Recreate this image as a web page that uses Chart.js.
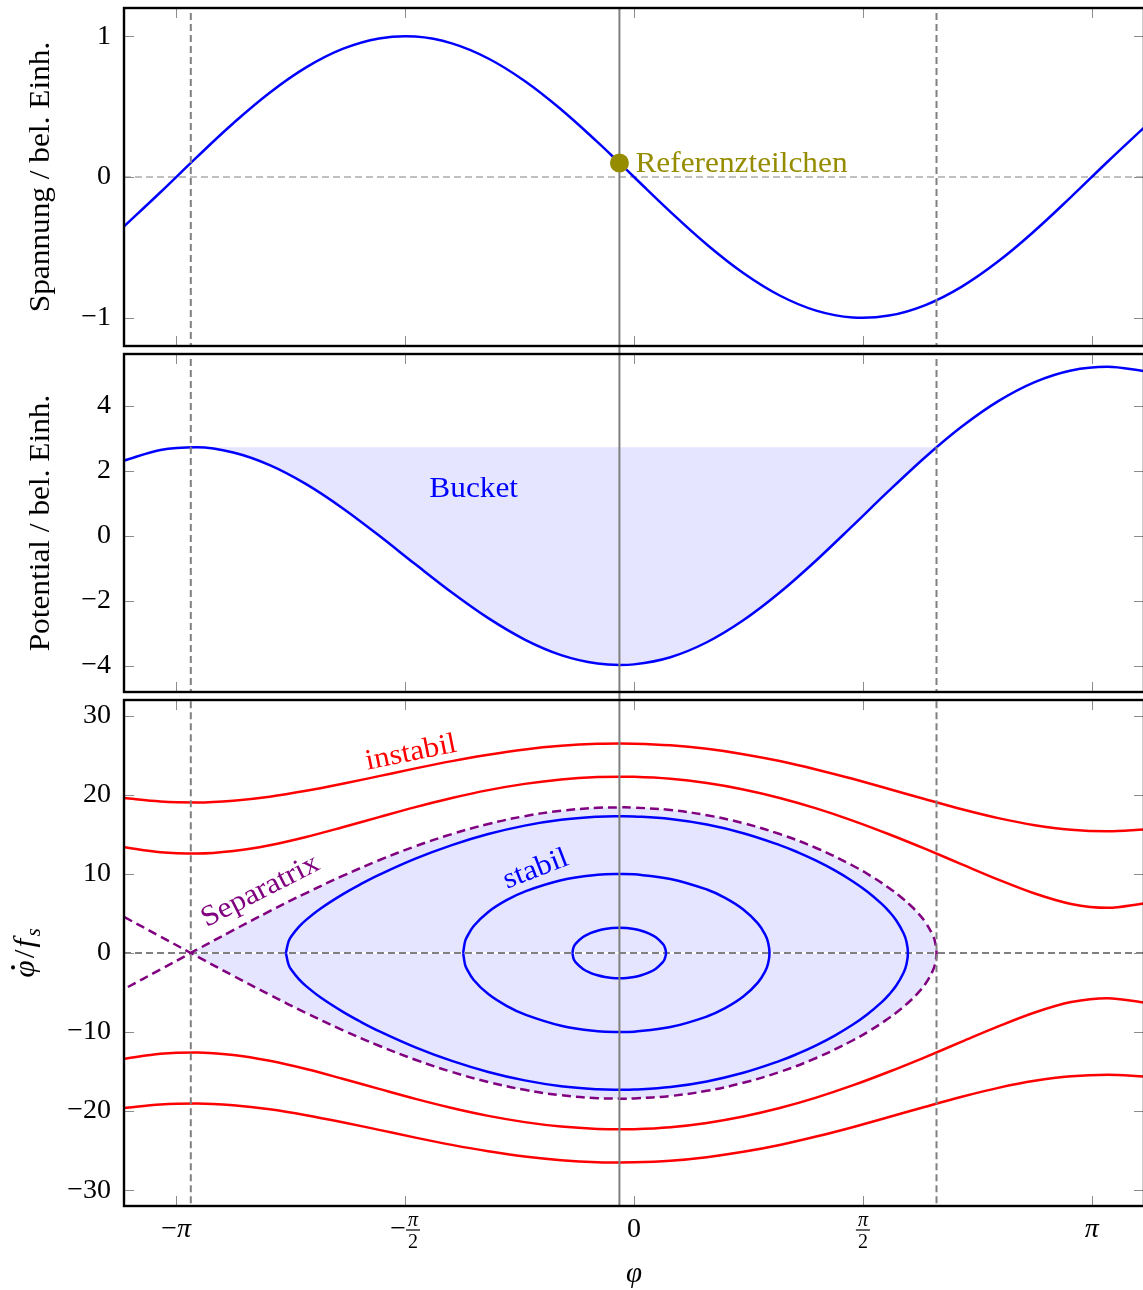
<!DOCTYPE html>
<html>
<head>
<meta charset="utf-8">
<script src="https://cdn.jsdelivr.net/npm/chart.js@4/dist/chart.umd.min.js"></script>
<style>
  html, body { margin: 0; padding: 0; background: #fff; overflow: hidden; width: 1143px; height: 1290px; }
  canvas { position: absolute; left: 0; display: block; }
</style>
</head>
<body>
<canvas id="cU" width="1160" height="350" style="top:0px"></canvas>
<canvas id="cP" width="1160" height="346" style="top:350px"></canvas>
<canvas id="cS" width="1160" height="594" style="top:696px"></canvas>
<script>
// ---- phase axis -------------------------------------------------------
const X_MIN = -3.5, X_MAX = 3.5;
const X_TICKS = [-Math.PI, -Math.PI / 2, 0, Math.PI / 2, Math.PI];
const X_TICK_LABELS = ['−π', '−π/2', '0', 'π/2', 'π'];

// ---- y ticks per panel ---------------------------------------------------
const U_TICKS = [-1, 0, 1];
const P_TICKS = [-4, -2, 0, 2, 4];
const S_TICKS = [-30, -20, -10, 0, 10, 20, 30];

// ---- sampled phases for the RF voltage, potential and unbounded orbits ---
const PHI = [-3.5, -3.25, -3.0, -2.75, -2.5, -2.25, -2.0, -1.75, -1.5, -1.25, -1.0, -0.75, -0.5, -0.25, -0.1,
             0, 0.25, 0.5, 0.75, 1.0, 1.25, 1.5, 1.75, 2.0, 2.25, 2.5, 2.75, 3.0, 3.25, 3.5];
const VOLTAGE = [-0.3508, -0.1082, 0.1411, 0.3817, 0.5985, 0.7781, 0.9093, 0.9840, 0.9975, 0.9490, 0.8415, 0.6816, 0.4794, 0.2474, 0.0998,
                 0, -0.2474, -0.4794, -0.6816, -0.8415, -0.9490, -0.9975, -0.9840, -0.9093, -0.7781, -0.5985, -0.3817, -0.1411, 0.1082, 0.3508];
const POTENTIAL = [2.319, 2.646, 2.728, 2.567, 2.179, 1.594, 0.855, 0.014, -0.871, -1.738, -2.528, -3.186, -3.664, -3.926, -3.970,
                   -3.950, -3.729, -3.269, -2.594, -1.740, -0.753, 0.312, 1.394, 2.432, 3.368, 4.150, 4.735, 5.093, 5.208, 5.079];
const RED_OUTER = [19.59, 19.16, 19.05, 19.27, 19.77, 20.51, 21.40, 22.37, 23.35, 24.27, 25.08, 25.74, 26.20, 26.46, 26.50,
                   26.48, 26.27, 25.82, 25.15, 24.28, 23.22, 22.03, 20.75, 19.44, 18.18, 17.06, 16.17, 15.60, 15.41, 15.62];
const RED_INNER = [13.37, 12.74, 12.58, 12.90, 13.64, 14.68, 15.91, 17.19, 18.45, 19.60, 20.60, 21.39, 21.95, 22.25, 22.30,
                   22.28, 22.03, 21.49, 20.68, 19.61, 18.29, 16.75, 15.02, 13.16, 11.21, 9.28, 7.52, 6.20, 5.71, 6.26];

// ---- synchronous particle and bucket limits --------------------------------
const PHI_S = -0.1, V_S = 0.0998;
const PHI_U = -3.0416, PHI_R = 2.076, U_SEP = 2.731;

// ---- separatrix (upper branch) and its tail beyond the unstable point -------
const SEP_PHI = [-3.0416, -3.0, -2.75, -2.5, -2.25, -2.0, -1.75, -1.5, -1.25, -1.0, -0.75, -0.5, -0.25, -0.1,
                 0, 0.25, 0.5, 0.75, 1.0, 1.25, 1.5, 1.625, 1.75, 1.825, 1.9, 1.95, 2.0, 2.05, 2.065, 2.076];
const SEP_Y = [0, 0.424, 2.884, 5.290, 7.588, 9.747, 11.730, 13.505, 15.044, 16.319, 17.309, 17.994, 18.360, 18.42,
               18.393, 18.086, 17.431, 16.421, 15.047, 13.282, 11.068, 9.748, 8.229, 7.182, 5.977, 5.034, 3.894, 2.261, 1.488, 0];
const SEP_TAIL_PHI = [-3.5, -3.25];
const SEP_TAIL_Y = [4.567, 2.083];

// ---- stable orbits (upper halves) -------------------------------------------
const ORBIT_L_PHI = [-2.389, -2.37, -2.35, -2.3, -2.25, -2.15, -2.0, -1.875, -1.75, -1.5, -1.25, -1.0, -0.75, -0.5, -0.25, -0.1,
                     0, 0.25, 0.5, 0.75, 1.0, 1.125, 1.25, 1.375, 1.5, 1.6, 1.7, 1.75, 1.8, 1.85, 1.87, 1.88];
const ORBIT_L_Y = [0, 1.497, 2.158, 3.309, 4.193, 5.634, 7.416, 8.708, 9.878, 11.932, 13.650, 15.044, 16.112, 16.846, 17.236, 17.30,
                   17.271, 16.944, 16.243, 15.155, 13.653, 12.731, 11.680, 10.477, 9.083, 7.780, 6.213, 5.265, 4.115, 2.502, 1.422, 0];
const ORBIT_M_PHI = [-1.1727, -1.16, -1.15, -1.1, -1.0, -0.875, -0.75, -0.5, -0.25, -0.1, 0, 0.25, 0.5, 0.625, 0.75, 0.85, 0.9, 0.92, 0.93];
const ORBIT_M_Y = [0, 1.422, 1.911, 3.417, 5.198, 6.682, 7.765, 9.192, 9.888, 10.0, 9.950, 9.370, 8.034, 6.980, 5.510, 3.747, 2.315, 1.342, 0];
const ORBIT_S_PHI = [-0.4225, -0.415, -0.4, -0.35, -0.3, -0.25, -0.2, -0.15, -0.1, -0.05, 0, 0.05, 0.1, 0.15, 0.2, 0.21, 0.22];
const ORBIT_S_Y = [0, 0.713, 1.183, 2.015, 2.502, 2.823, 3.033, 3.154, 3.194, 3.154, 3.033, 2.820, 2.490, 1.990, 1.105, 0.784, 0];

// ---- styling -------------------------------------------------------------
const FONT = '"Liberation Serif", "Times New Roman", serif';
const TEXT_STRETCH = 1.08;
const BLUE = '#0000ff', RED = '#ff0000', VIOLET = '#800080', OLIVE = '#968c00';
const GRAY = '#808080', LIGHTGRAY = '#c0c0c0', FILL = '#e5e5ff', TICK_COLOR = '#8c8c8c';
const DASH = [7, 4], SEP_DASH = [9, 5];
const AXIS_WIDTH = 124, TICK_LEN = 10;

// ---- data helpers ----------------------------------------------------------
const pts = (xs, ys) => xs.map((x, i) => ({ x, y: ys[i] }));
const negPts = (xs, ys) => xs.map((x, i) => ({ x, y: -ys[i] }));
function closedOrbit(xs, ys) {
  const path = pts(xs, ys);
  for (let i = xs.length - 2; i >= 0; i--) path.push({ x: xs[i], y: -ys[i] });
  return path;
}
function separatrixPath() {
  const p = [];
  SEP_TAIL_PHI.forEach((x, i) => p.push({ x, y: SEP_TAIL_Y[i] }));
  SEP_PHI.forEach((x, i) => p.push({ x, y: -SEP_Y[i] }));
  for (let i = SEP_PHI.length - 2; i >= 0; i--) p.push({ x: SEP_PHI[i], y: SEP_Y[i] });
  for (let i = SEP_TAIL_PHI.length - 1; i >= 0; i--) p.push({ x: SEP_TAIL_PHI[i], y: -SEP_TAIL_Y[i] });
  return p;
}
function bucketPoints() {
  const p = [{ x: PHI_U, y: U_SEP }];
  PHI.forEach((x, i) => { if (x > PHI_U && x < PHI_R) p.push({ x, y: POTENTIAL[i] }); });
  p.push({ x: PHI_R, y: U_SEP });
  return p;
}

const curve = (data, color, extra = {}) =>
  Object.assign({ data, borderColor: color, borderWidth: 2.5, pointRadius: 0, tension: 0.4, fill: false }, extra);
const smooth = { cubicInterpolationMode: 'monotone' };
const vline = (x, color, dash, clip) => ({
  data: [{ x, y: -1000 }, { x, y: 1000 }], borderColor: color, borderWidth: 2, borderDash: dash || [],
  pointRadius: 0, tension: 0, fill: false, clip: clip || 0
});
const hline = (y, color, dash, width) => ({
  data: [{ x: X_MIN, y }, { x: X_MAX, y }], borderColor: color, borderWidth: width || 2, borderDash: dash || [],
  pointRadius: 0, tension: 0, fill: false
});
const area = (data, target, extra = {}) => Object.assign({
  data, borderColor: 'rgba(0,0,0,0)', borderWidth: 1, backgroundColor: FILL, pointRadius: 0, tension: 0.4, fill: target
}, extra);

const fmt = v => (v < 0 ? '\u2212' + Math.abs(v) : String(v));

// ---- drawing helpers --------------------------------------------------------
function drawText(ctx, text, x, y, rot, align, color, font) {
  ctx.save();
  ctx.translate(x, y);
  ctx.rotate(rot);
  ctx.scale(TEXT_STRETCH, 1);
  ctx.font = font;
  ctx.fillStyle = color;
  ctx.textAlign = align;
  ctx.textBaseline = 'alphabetic';
  ctx.fillText(text, 0, 0);
  ctx.restore();
}

const framePlugin = {
  id: 'frame',
  afterDatasetsDraw(chart) {
    const { ctx, chartArea: a, scales: { x, y } } = chart;
    ctx.save();
    ctx.strokeStyle = TICK_COLOR;
    ctx.lineWidth = 1;
    ctx.beginPath();
    X_TICKS.forEach(v => {
      const px = Math.round(x.getPixelForValue(v)) + 0.5;
      ctx.moveTo(px, a.top); ctx.lineTo(px, a.top + TICK_LEN);
      ctx.moveTo(px, a.bottom); ctx.lineTo(px, a.bottom - TICK_LEN);
    });
    y.ticks.forEach(t => {
      const py = Math.round(y.getPixelForValue(t.value)) + 0.5;
      ctx.moveTo(a.left, py); ctx.lineTo(a.left + TICK_LEN, py);
      ctx.moveTo(a.right, py); ctx.lineTo(a.right - TICK_LEN, py);
    });
    ctx.stroke();
    ctx.strokeStyle = '#000';
    ctx.lineWidth = 2.4;
    ctx.strokeRect(a.left, a.top, a.right - a.left, a.bottom - a.top);
    ctx.restore();
  }
};

function notesPlugin(notes) {
  return {
    id: 'notes',
    afterDatasetsDraw(chart) {
      const { ctx, scales: { x, y } } = chart;
      notes.forEach(n => {
        const px = x.getPixelForValue(n.x) + (n.dx || 0);
        const py = y.getPixelForValue(n.y) + (n.dy || 0);
        drawText(ctx, n.text, px, py, (n.rot || 0) * Math.PI / 180, n.align || 'center', n.color, `29px ${FONT}`);
      });
    }
  };
}

function titlePlugin(text) {
  return {
    id: 'ytitle',
    afterDraw(chart) {
      const a = chart.chartArea;
      drawText(chart.ctx, text, 49, (a.top + a.bottom) / 2, -Math.PI / 2, 'center', '#000', `29px ${FONT}`);
    }
  };
}

// phase-velocity title: dotted phi over f with subscript s
const phaseTitlePlugin = {
  id: 'ytitle',
  afterDraw(chart) {
    const { ctx, chartArea: a } = chart;
    const parts = [
      { t: '\u03c6', f: `italic 29px ${FONT}`, dot: true },
      { t: '/', f: `29px ${FONT}` },
      { t: 'f', f: `italic 29px ${FONT}` },
      { t: 's', f: `italic 20px ${FONT}`, dy: 6 }
    ];
    const gap = 2;
    ctx.save();
    ctx.translate(34, (a.top + a.bottom) / 2);
    ctx.rotate(-Math.PI / 2);
    ctx.scale(TEXT_STRETCH, 1);
    ctx.fillStyle = '#000';
    ctx.textAlign = 'left';
    ctx.textBaseline = 'alphabetic';
    let w = 0;
    parts.forEach(p => { ctx.font = p.f; p.w = ctx.measureText(p.t).width; w += p.w; });
    w += gap * (parts.length - 1);
    let cx = -w / 2;
    parts.forEach(p => {
      ctx.font = p.f;
      ctx.fillText(p.t, cx, p.dy || 0);
      if (p.dot) { ctx.beginPath(); ctx.arc(cx + p.w * 0.6, -21, 2, 0, 2 * Math.PI); ctx.fill(); }
      cx += p.w + gap;
    });
    ctx.restore();
  }
};

// phase tick labels (with stacked fractions) and the axis title below the last panel
const phaseAxisPlugin = {
  id: 'phaseaxis',
  afterDraw(chart) {
    const { ctx, chartArea: a, scales: { x } } = chart;
    const base = a.bottom + 31;
    ctx.save();
    ctx.fillStyle = '#000';
    ctx.textBaseline = 'alphabetic';
    X_TICKS.forEach((v, i) => {
      const label = X_TICK_LABELS[i];
      const px = x.getPixelForValue(v);
      const sign = label.startsWith('\u2212') ? '\u2212' : '';
      const body = sign ? label.slice(1) : label;
      const big = `28px ${FONT}`, bigIt = `italic 28px ${FONT}`;
      if (body.includes('/')) {
        const [num, den] = body.split('/');
        const small = `20px ${FONT}`, smallIt = `italic 20px ${FONT}`;
        ctx.font = big; const sw = sign ? ctx.measureText(sign).width : 0;
        ctx.font = smallIt; const nw = ctx.measureText(num).width;
        ctx.font = small; const dw = ctx.measureText(den).width;
        const fw = Math.max(nw, dw) + 4;
        const left = px - (sw + fw) / 2;
        if (sign) { ctx.font = big; ctx.textAlign = 'left'; ctx.fillText(sign, left, base); }
        const fc = left + sw + fw / 2;
        ctx.textAlign = 'center';
        ctx.font = smallIt; ctx.fillText(num, fc, base - 11);
        ctx.font = small; ctx.fillText(den, fc, base + 11);
        ctx.fillRect(fc - fw / 2, base - 7.6, fw, 1.2);
      } else {
        ctx.font = big; const sw = sign ? ctx.measureText(sign).width : 0;
        const bf = body === '0' ? big : bigIt;
        ctx.font = bf; const bw = ctx.measureText(body).width;
        const left = px - (sw + bw) / 2;
        ctx.textAlign = 'left';
        if (sign) { ctx.font = big; ctx.fillText(sign, left, base); }
        ctx.font = bf;
        ctx.fillText(body, left + sw, base);
      }
    });
    ctx.textAlign = 'center';
    ctx.font = `italic 29px ${FONT}`;
    ctx.fillText('\u03c6', x.getPixelForValue(0), a.bottom + 76);
    ctx.restore();
  }
};

function panel(id, yMin, yMax, yTicks, padTop, padBottom, datasets, plugins) {
  return new Chart(document.getElementById(id), {
    type: 'line',
    data: { datasets },
    options: {
      responsive: false,
      animation: false,
      events: [],
      layout: { autoPadding: false, padding: { left: 0, right: 16, top: padTop, bottom: padBottom } },
      plugins: { legend: { display: false }, tooltip: { enabled: false }, filler: { drawTime: 'beforeDatasetsDraw' } },
      scales: {
        x: { type: 'linear', min: X_MIN, max: X_MAX, display: false },
        y: {
          type: 'linear', min: yMin, max: yMax, position: 'left',
          grid: { display: false, drawTicks: false },
          border: { display: false },
          afterBuildTicks: s => { s.ticks = yTicks.map(v => ({ value: v })); },
          afterFit: s => { s.width = AXIS_WIDTH; s.paddingTop = 0; s.paddingBottom = 0; },
          ticks: { padding: 13, color: '#000', font: { family: FONT, size: 28 }, callback: v => fmt(v) }
        }
      }
    },
    plugins: [framePlugin].concat(plugins)
  });
}

// ---- panel 1: RF voltage ------------------------------------------------------
panel('cU', -1.2, 1.2, U_TICKS, 8, 4, [
  { data: [{ x: PHI_S, y: V_S }], showLine: false, pointRadius: 9.5, pointBorderWidth: 0,
    pointBackgroundColor: OLIVE, backgroundColor: OLIVE, borderColor: OLIVE, clip: false },
  vline(PHI_S, GRAY, null, { left: 0, right: 0, top: 0, bottom: 5 }),
  vline(PHI_U, GRAY, DASH),
  vline(PHI_R, GRAY, DASH),
  curve(pts(PHI, VOLTAGE), BLUE),
  hline(0, LIGHTGRAY, DASH)
], [
  notesPlugin([{ text: 'Referenzteilchen', x: PHI_S, y: V_S, dx: 16, dy: 9, align: 'left', color: OLIVE }]),
  titlePlugin('Spannung / bel. Einh.')
]);

// ---- panel 2: potential ------------------------------------------------------
panel('cP', -4.8, 5.6, P_TICKS, 4, 4, [
  vline(PHI_S, GRAY, null, { left: 0, right: 0, top: 5, bottom: 5 }),
  vline(PHI_U, GRAY, DASH),
  vline(PHI_R, GRAY, DASH),
  curve(pts(PHI, POTENTIAL), BLUE, smooth),
  area(bucketPoints(), { value: U_SEP }, smooth)
], [
  notesPlugin([{ text: 'Bucket', x: -1.1, y: 1.2, color: BLUE }]),
  titlePlugin('Potential / bel. Einh.')
]);

// ---- panel 3: longitudinal phase space -----------------------------------------
panel('cS', -32, 32, S_TICKS, 4, 84, [
  vline(PHI_S, GRAY, null, { left: 0, right: 0, top: 5, bottom: 0 }),
  vline(PHI_U, GRAY, DASH),
  vline(PHI_R, GRAY, DASH),
  curve(pts(PHI, RED_OUTER), RED, smooth),
  curve(pts(PHI, RED_INNER), RED, smooth),
  curve(negPts(PHI, RED_INNER), RED, smooth),
  curve(negPts(PHI, RED_OUTER), RED, smooth),
  curve(closedOrbit(ORBIT_L_PHI, ORBIT_L_Y), BLUE),
  curve(closedOrbit(ORBIT_M_PHI, ORBIT_M_Y), BLUE),
  curve(closedOrbit(ORBIT_S_PHI, ORBIT_S_Y), BLUE),
  curve(separatrixPath(), VIOLET, { borderDash: SEP_DASH }),
  hline(0, GRAY, DASH),
  hline(0, '#ffffff', [], 2),
  area(pts(SEP_PHI, SEP_Y), 'origin'),
  area(negPts(SEP_PHI, SEP_Y), 'origin')
], [
  notesPlugin([
    { text: 'instabil', x: -1.52, y: 24.35, rot: -11.5, color: RED },
    { text: 'Separatrix', x: -2.54, y: 6.96, rot: -27, color: VIOLET },
    { text: 'stabil', x: -0.655, y: 9.68, rot: -21, color: BLUE }
  ]),
  phaseTitlePlugin,
  phaseAxisPlugin
]);
</script>
</body>
</html>
